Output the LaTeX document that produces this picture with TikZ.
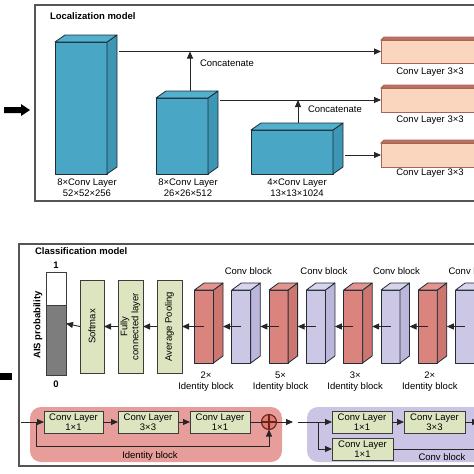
\documentclass[tikz,border=0pt]{standalone}
\usepackage{fontspec}
\setmainfont{Liberation Sans}
\usetikzlibrary{arrows.meta,calc}
\definecolor{framegray}{RGB}{85,85,85}
\definecolor{cubeedge}{RGB}{30,45,55}
\definecolor{tealF}{RGB}{73,167,197}
\definecolor{tealS}{RGB}{60,150,180}
\definecolor{tealT}{RGB}{82,176,205}
\definecolor{orF}{RGB}{251,214,190}
\definecolor{orT}{RGB}{190,115,100}
\definecolor{orE}{RGB}{165,100,85}
\definecolor{greenF}{RGB}{220,229,192}
\definecolor{boxedge}{RGB}{60,60,60}
\definecolor{redF}{RGB}{219,132,125}
\definecolor{redS}{RGB}{205,118,112}
\definecolor{redT}{RGB}{228,148,142}
\definecolor{purF}{RGB}{204,199,228}
\definecolor{purS}{RGB}{188,182,218}
\definecolor{purT}{RGB}{216,212,236}
\definecolor{idfill}{RGB}{231,158,154}
\definecolor{cbfill}{RGB}{203,196,229}
\definecolor{plusfill}{RGB}{222,125,115}
\definecolor{plusedge}{RGB}{110,35,25}
\definecolor{probgray}{RGB}{125,125,125}
\newcommand\cubefaces[5]{%
  \draw[cubeline, fill=#4] (#1.north east) -- ++(#2,-#3) -- ([shift={(#2,-#3)}]#1.south east) -- (#1.south east) -- cycle;
  \draw[cubeline, fill=#5] (#1.north west) -- ++(#2,-#3) -- ([shift={(#2,-#3)}]#1.north east) -- (#1.north east) -- cycle;}
\newcommand\cnnblock[5]{%
  \node[cube, fill=#3, minimum width=19, minimum height=73] (#1) at (#2,290) {};
  \cubefaces{#1}{9.5}{7}{#4}{#5}}
\begin{document}
\begin{tikzpicture}[x=1pt,y=-1pt,
  every node/.style={font=\fontsize{9.5}{11}\selectfont, inner sep=0, outer sep=0},
  bold/.style={font=\fontsize{9.5}{11}\selectfont\bfseries},
  frame/.style={draw=framegray, line width=1.1pt},
  cubeline/.style={draw=cubeedge, line width=0.8pt, line join=round},
  cube/.style={cubeline, anchor=north west},
  obox/.style={draw=orE, fill=orF, line width=0.8pt, anchor=north west},
  arr/.style={line width=0.9pt, draw=black!85, -{Triangle[length=7pt,width=6pt]}},
  ln/.style={line width=0.9pt, draw=black!85},
  gbox/.style={draw=boxedge, fill=greenF, line width=0.9pt, anchor=north west},
  gsmall/.style={gbox, align=center, font=\fontsize{9.5}{10}\selectfont},
  lbl/.style={align=center},
  barbox/.style={draw=boxedge, line width=0.9pt, minimum width=20, anchor=north west}
]
\useasboundingbox (0,0) rectangle (474,474);
\clip (0,0) rectangle (474,474);
\fill[white] (0,0) rectangle (474,474);

% ---------- Localization model ----------
\fill (4,107) -- (21,107) -- (21,104) -- (30,110) -- (21,116) -- (21,113) -- (4,113) -- cycle;
\draw[frame] (35,5) rectangle (530,201);
\node[bold, anchor=west] (loc) at (50,16) {Localization model};

\node[cube, fill=tealF, minimum width=52, minimum height=132] (c1) at (55,42) {};
\cubefaces{c1}{10}{7}{tealS}{tealT}
\node[cube, fill=tealF, minimum width=52, minimum height=76] (c2) at (156,98) {};
\cubefaces{c2}{10}{7}{tealS}{tealT}
\node[cube, fill=tealF, minimum width=82, minimum height=44] (c3) at (251,130) {};
\cubefaces{c3}{10}{7}{tealS}{tealT}

\node[lbl] (c1l) at (87,188) {8×Conv Layer\\52×52×256};
\node[lbl] (c2l) at (188,188) {8×Conv Layer\\26×26×512};
\node[lbl] (c3l) at (297,188) {4×Conv Layer\\13×13×1024};

\node[obox, minimum width=150, minimum height=23] (o1) at (381,40) {};
\node[obox, minimum width=150, minimum height=24] (o2) at (381,88) {};
\node[obox, minimum width=150, minimum height=24] (o3) at (381,143) {};
\foreach \o in {o1,o2,o3}{
  \draw[draw=orE, fill=orT, line width=0.8pt] (\o.north west) -- ++(3,-3) -- ([shift={(3,-3)}]\o.north east) -- (\o.north east) -- cycle;}
\node (o1l) at (430,72) {Conv Layer 3×3};
\node (o2l) at (430,120) {Conv Layer 3×3};
\node (o3l) at (430,173) {Conv Layer 3×3};

\coordinate (c1r) at ([xshift=12]c1.east);
\coordinate (c2r) at ([xshift=12]c2.east);
\coordinate (c3r) at ([xshift=12]c3.east);
\draw[arr] (c1r |- o1.west) -- (o1.west);
\draw[arr] (c2r |- o2.west) -- (o2.west);
\draw[arr] (c3r |- o3.west) -- (o3.west);
\coordinate (c2t) at ([shift={(8,-7)}]c2.north);
\coordinate (c3t) at ([shift={(6,-7)}]c3.north);
\draw[arr] (c2t) -- (c2t |- o1.west);
\draw[arr] (c3t) -- (c3t |- o2.west);
\node[anchor=west] (cc1) at (200,63) {Concatenate};
\node[anchor=west] (cc2) at (308,109) {Concatenate};

% ---------- Classification model ----------
\fill (0,373) rectangle (12,380);
\draw[frame] (19,244) rectangle (530,466);
\node[bold, anchor=west] (cls) at (35,251) {Classification model};

\node[barbox, fill=white, minimum height=103] (bar) at (46,272) {};
\node[barbox, fill=probgray, minimum height=70, anchor=south west] (barg) at (bar.south west) {};
\node[bold] (one) at (56,265) {1};
\node[bold] (zero) at (56,384) {0};
\node[bold, rotate=90] (ais) at (38,325) {AIS probability};

\node[gbox, minimum width=24, minimum height=93] (sm) at (80,280) {};
\node[rotate=90] (smt) at (sm.center) {Softmax};
\node[gbox, minimum width=25, minimum height=93] (fc) at (118,280) {};
\node[rotate=90, lbl] (fct) at (fc.center) {Fully\\connected layer};
\node[gbox, minimum width=25, minimum height=93] (ap) at (157,280) {};
\node[rotate=90] (apt) at (ap.center) {Average Pooling};

\cnnblock{k1}{194.5}{redF}{redS}{redT}
\cnnblock{k2}{231.8}{purF}{purS}{purT}
\cnnblock{k3}{269.1}{redF}{redS}{redT}
\cnnblock{k4}{306.4}{purF}{purS}{purT}
\cnnblock{k5}{343.7}{redF}{redS}{redT}
\cnnblock{k6}{381.0}{purF}{purS}{purT}
\cnnblock{k7}{418.3}{redF}{redS}{redT}
\cnnblock{k8}{455.6}{purF}{purS}{purT}

\draw[arr] (ap.west) -- (fc.east);
\draw[arr] (fc.west) -- (sm.east);
\draw[arr] (sm.west) -- (bar.east);
\draw[arr] (k1.center) -- (ap.east);
\foreach \a/\b in {k2/k1,k3/k2,k4/k3,k5/k4,k6/k5,k7/k6,k8/k7}{
  \draw[arr] (\a.center) -- ([xshift=9.5]\b.east);}

\node (cb1) at ([shift={(7,-19)}]k2.north) {Conv block};
\node (cb2) at ([shift={(8,-19)}]k4.north) {Conv block};
\node (cb3) at ([shift={(6,-19)}]k6.north) {Conv block};
\node (cb4) at ([shift={(7,-19)}]k8.north) {Conv block};
\node[lbl] (ib1) at ([shift={(2,18.5)}]k1.south) {2×\\Identity block};
\node[lbl] (ib2) at ([shift={(2,18.5)}]k3.south) {5×\\Identity block};
\node[lbl] (ib3) at ([shift={(2,18.5)}]k5.south) {3×\\Identity block};
\node[lbl] (ib4) at ([shift={(2,18.5)}]k7.south) {2×\\Identity block};

% ---------- Identity block / Conv block detail ----------
\node[fill=idfill, rounded corners=11, minimum width=252, minimum height=55, anchor=north west] (idb) at (30,407) {};
\node[fill=cbfill, rounded corners=11, minimum width=220, minimum height=55, anchor=north west] (cvb) at (307,407) {};

\node[gsmall, minimum width=59, minimum height=22] (g1) at (44,411) {Conv Layer\\1×1};
\node[gsmall, minimum width=60, minimum height=22] (g2) at (118,411) {Conv Layer\\3×3};
\node[gsmall, minimum width=60, minimum height=22] (g3) at (190,411) {Conv Layer\\1×1};
\node[circle, draw=plusedge, fill=plusfill, minimum size=15, line width=1.1pt] (plus) at (269,422) {};
\draw[plusedge, line width=1.1pt] (plus.north) -- (plus.south) (plus.west) -- (plus.east);

\coordinate (in) at (21,422);
\coordinate (sk) at (36,422);
\coordinate (out) at (293,422);
\draw[arr] (in) -- (g1.west);
\draw[arr] (g1.east) -- (g2.west);
\draw[arr] (g2.east) -- (g3.west);
\draw[ln] (g3.east) -- (plus.west);
\draw[arr] (sk) -- (sk |- 0,446) -| (plus.south);
\draw[arr] (plus.east) -- (out);
\node (idt) at (150,456) {Identity block};

\node[gsmall, minimum width=60, minimum height=22] (h1) at (332,411) {Conv Layer\\1×1};
\node[gsmall, minimum width=61, minimum height=22] (h2) at (404,411) {Conv Layer\\3×3};
\node[gsmall, minimum width=61, minimum height=22] (h3) at (332,438) {Conv Layer\\1×1};
\coordinate (cin) at (298,422);
\coordinate (br) at (318,422);
\coordinate (h2o) at (479,422);
\coordinate (h3o) at (530,449);
\draw[arr] (cin) -- (h1.west);
\draw[arr] (br) |- (h3.west);
\draw[arr] (h1.east) -- (h2.west);
\draw[arr] (h2.east) -- (h2o);
\draw[ln] (h3.east) -- (h3o);
\node (cbt) at (442,457) {Conv block};
\end{tikzpicture}
\end{document}
